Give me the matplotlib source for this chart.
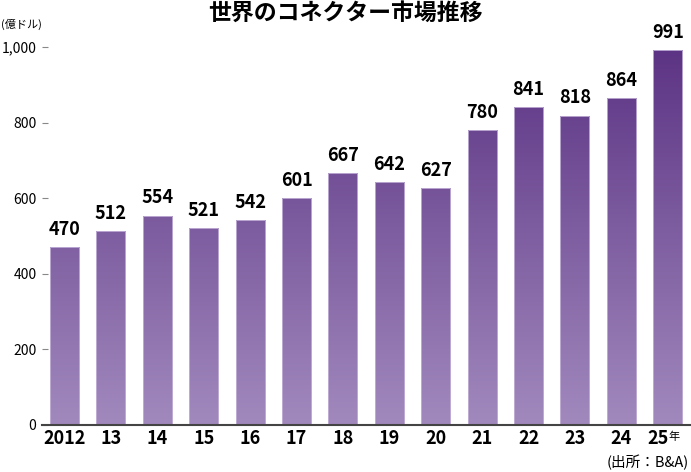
import matplotlib.pyplot as plt
import numpy as np
from matplotlib.colors import LinearSegmentedColormap
from matplotlib.transforms import blended_transform_factory, offset_copy

plt.rcParams["font.family"] = ["Noto Sans CJK JP", "DejaVu Sans"]

# data
years = ["2012", "13", "14", "15", "16", "17", "18", "19", "20", "21", "22", "23", "24", "25"]
values = [470, 512, 554, 521, 542, 601, 667, 642, 627, 780, 841, 818, 864, 991]

fig = plt.figure(figsize=(6.91, 4.72), dpi=100)
ax = fig.add_axes([42 / 691, 47 / 472, 649 / 691, 378 / 472])

x = np.arange(len(years))
cmap = LinearSegmentedColormap.from_list("purp", ["#a189bd", "#5c3384"])
grad = np.linspace(0, 1, 256).reshape(-1, 1)

bars = ax.bar(x, values, width=0.625, color="none", edgecolor="#c4b3d8", linewidth=0.6, zorder=3)
for bar, v in zip(bars, values):
    im = ax.imshow(grad, cmap=cmap, origin="lower", aspect="auto",
                   extent=[bar.get_x(), bar.get_x() + bar.get_width(), 0, 1000], zorder=2)
    im.set_clip_path(bar)
    ax.text(bar.get_x() + bar.get_width() / 2, v + 22, str(v), ha="center", va="bottom",
            fontsize=13, fontweight="bold", clip_on=False)

ax.set_xlim(-0.485, 13.5)
ax.set_ylim(0, 1000)

for s in ["top", "right", "left"]:
    ax.spines[s].set_visible(False)
ax.spines["bottom"].set_color("#444444")
ax.spines["bottom"].set_linewidth(1.5)
ax.spines["bottom"].set_zorder(4)

ax.set_yticks([0, 200, 400, 600, 800, 1000])
ax.set_yticklabels(["0", "200", "400", "600", "800", "1,000"], fontsize=10)
ax.tick_params(axis="y", direction="in", length=4, color="#888888", pad=4)

ax.set_xticks(x[:-1])
ax.set_xticklabels(years[:-1], fontsize=13, fontweight="bold")
ax.tick_params(axis="x", length=0, pad=3)

# last tick label with small 年
tr = offset_copy(blended_transform_factory(ax.transData, ax.transAxes), fig=fig, x=0, y=-3, units="points")
ax.text(13.02, 0, "25", transform=tr, ha="right", va="top", fontsize=13, fontweight="bold", clip_on=False)
tr2 = offset_copy(blended_transform_factory(ax.transData, ax.transAxes), fig=fig, x=0, y=-5, units="points")
ax.text(13.02, 0, "年", transform=tr2, ha="left", va="top", fontsize=8, clip_on=False)

fig.text(0.5, 1 - 13 / 472, "世界のコネクター市場推移", ha="center", va="center", fontsize=16.5, fontweight="bold")
fig.text(1 / 691, 1 - 24 / 472, "(億ドル)", ha="left", va="center", fontsize=8)
fig.text(689 / 691, 1 - 462 / 472, "(出所：B&A)", ha="right", va="center", fontsize=10.5)

fig.savefig("out.png", dpi=100)
